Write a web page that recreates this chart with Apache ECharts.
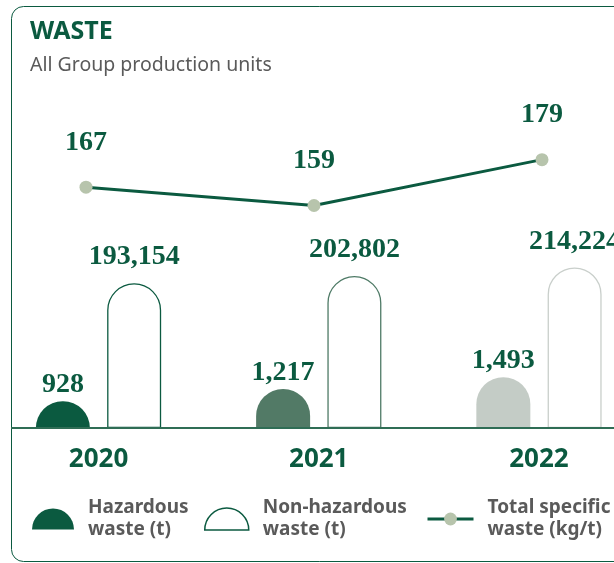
<!DOCTYPE html>
<html>
<head>
<meta charset="utf-8">
<script src="https://cdn.jsdelivr.net/npm/echarts@6/dist/echarts.min.js"></script>
<style>
  html, body { margin: 0; padding: 0; background: #ffffff; }
  #chart { width: 614px; height: 563px; }
</style>
</head>
<body>
<div id="chart"></div>
<script>
// Waste by year, all Group production units
const years = ['2020', '2021', '2022'];
const hazardous = [928, 1217, 1493];              // t
const nonHazardous = [193154, 202802, 214224];    // t
const specificWaste = [167, 159, 179];            // kg/t

const seriesNames = ['Hazardous\nwaste (t)', 'Non-hazardous\nwaste (t)', 'Total specific\nwaste (kg/t)'];

const GREEN = '#0b5a40';
const hazFill = ['#0b5a40', '#527a66', '#c4ccc6'];
const nonHazStroke = ['#0b5a40', '#4e7a66', '#c9cfcb'];

const thousands = v => String(v).replace(/\B(?=(\d{3})+(?!\d))/g, ',');

const numberFont = {
  fontFamily: '"Liberation Serif", "DejaVu Serif", serif',
  fontSize: 28,
  fontWeight: 'bold',
  color: GREEN
};

const legendText = {
  fontFamily: '"Noto Sans", sans-serif',
  fontSize: 19,
  fontWeight: 'bold',
  color: '#5a5a5a',
  lineHeight: 22,
  padding: [0, 0, 0, 9]
};

const halfDisc = 'path://M0,20 A20,20 0 0 1 40,20 Z';

const chart = echarts.init(document.getElementById('chart'), null, { renderer: 'canvas' });

chart.setOption({
  animation: false,
  backgroundColor: '#ffffff',
  title: {
    text: 'WASTE',
    subtext: 'All Group production units',
    left: 30,
    top: 19,
    padding: 0,
    itemGap: 11,
    textStyle: { fontFamily: '"Noto Sans", sans-serif', fontSize: 25, fontWeight: 'bold', color: GREEN },
    subtextStyle: { fontFamily: '"Noto Sans", sans-serif', fontSize: 19.5, color: '#5a5a5a' }
  },
  grid: [
    { left: -11.6, right: -35.1, top: 100, bottom: 135, outerBoundsMode: 'none' },
    { left: 86, right: 72, top: 100, bottom: 135, outerBoundsMode: 'none' }
  ],
  xAxis: [
    {
      type: 'category',
      gridIndex: 0,
      data: years,
      axisLine: { show: false },
      axisTick: { show: false },
      axisLabel: {
        margin: 19,
        fontFamily: '"Noto Sans", sans-serif',
        fontSize: 26,
        fontWeight: 'bold',
        color: GREEN
      }
    },
    {
      type: 'category',
      gridIndex: 1,
      data: years,
      boundaryGap: false,
      show: false
    }
  ],
  yAxis: [
    { type: 'value', gridIndex: 0, min: 300, max: 8000, show: false, splitLine: { show: false } },
    { type: 'value', gridIndex: 0, min: 0, max: 437600, show: false, splitLine: { show: false } },
    { type: 'value', gridIndex: 1, min: 62, max: 205, show: false, splitLine: { show: false } }
  ],
  legend: [
    {
      data: [{ name: seriesNames[0], icon: halfDisc }],
      left: 32, top: 497, padding: 0,
      itemWidth: 42, itemHeight: 22,
      textStyle: legendText,
      selectedMode: false
    },
    {
      data: [{
        name: seriesNames[1], icon: halfDisc,
        itemStyle: { color: '#ffffff', borderColor: GREEN, borderWidth: 1.5 }
      }],
      left: 204, top: 497, padding: 0,
      itemWidth: 44, itemHeight: 23,
      textStyle: legendText,
      selectedMode: false
    },
    {
      data: [seriesNames[2]],
      left: 426, top: 497, padding: 0,
      itemWidth: 46, itemHeight: 16,
      lineStyle: { width: 3 },
      textStyle: legendText,
      selectedMode: false
    }
  ],
  series: [
    {
      name: seriesNames[0],
      type: 'bar',
      xAxisIndex: 0,
      yAxisIndex: 0,
      barWidth: 54,
      barGap: '32%',
      itemStyle: { color: GREEN, borderRadius: [27, 27, 0, 0] },
      data: hazardous.map((v, i) => ({ value: v, itemStyle: { color: hazFill[i] } })),
      label: Object.assign({
        show: true,
        position: 'top',
        distance: 2,
        formatter: p => thousands(p.value)
      }, numberFont)
    },
    {
      name: seriesNames[1],
      type: 'bar',
      xAxisIndex: 0,
      yAxisIndex: 1,
      barWidth: 54,
      barGap: '32%',
      itemStyle: { color: '#ffffff', borderColor: GREEN, borderWidth: 1.3, borderRadius: [27, 27, 0, 0] },
      data: nonHazardous.map((v, i) => ({ value: v, itemStyle: { borderColor: nonHazStroke[i] } })),
      label: Object.assign({
        show: true,
        position: 'top',
        distance: 12,
        formatter: p => thousands(p.value)
      }, numberFont)
    },
    {
      name: seriesNames[2],
      type: 'line',
      xAxisIndex: 1,
      yAxisIndex: 2,
      data: specificWaste,
      symbol: 'circle',
      symbolSize: 13,
      itemStyle: { color: '#b7c4ac' },
      lineStyle: { color: GREEN, width: 3 },
      z: 5,
      label: Object.assign({
        show: true,
        position: 'top',
        distance: 24
      }, numberFont)
    }
  ],
  graphic: [
    {
      type: 'rect',
      silent: true,
      z: -1,
      shape: { x: 11.5, y: 6.5, width: 660, height: 555, r: 12 },
      style: { fill: 'none', stroke: GREEN, lineWidth: 1 }
    },
    {
      type: 'line',
      silent: true,
      z: 10,
      shape: { x1: 11, y1: 428, x2: 614, y2: 428 },
      style: { stroke: '#2f6d55', lineWidth: 2 }
    }
  ]
});
</script>
</body>
</html>
